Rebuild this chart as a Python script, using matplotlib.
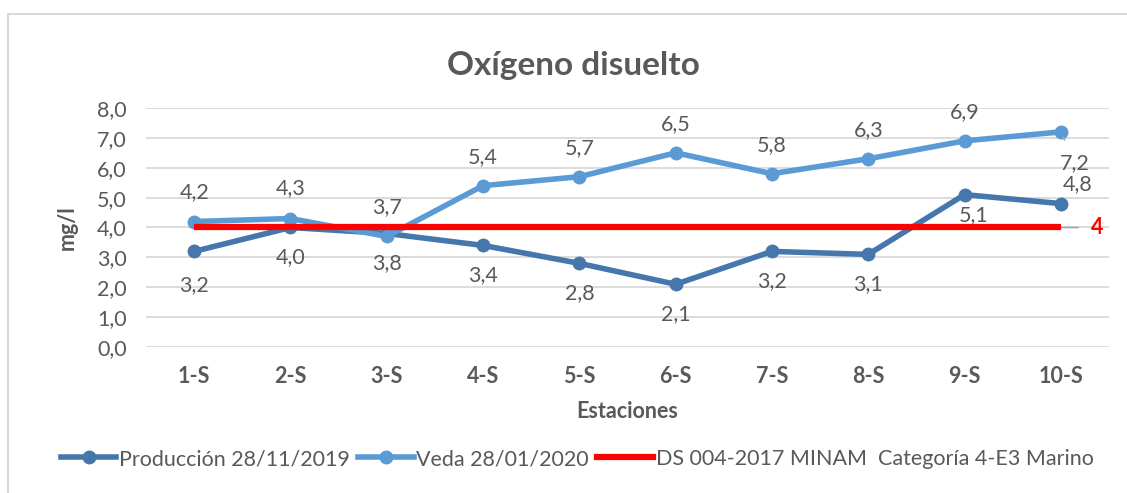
import numpy as np
import matplotlib
matplotlib.use("Agg")
from matplotlib import pyplot as plt
from matplotlib.lines import Line2D

plt.rcParams['font.family'] = ['Lato', 'DejaVu Sans']

# Data
estaciones = ['1-S', '2-S', '3-S', '4-S', '5-S', '6-S', '7-S', '8-S', '9-S', '10-S']
produccion = [3.2, 4.0, 3.8, 3.4, 2.8, 2.1, 3.2, 3.1, 5.1, 4.8]
veda = [4.2, 4.3, 3.7, 5.4, 5.7, 6.5, 5.8, 6.3, 6.9, 7.2]
limite = [4, 4, 4, 4, 4, 4, 4, 4, 4, 4]

c_prod = '#4677AC'
c_veda = '#5B9BD5'
c_lim = '#FF0000'
c_text = '#595959'
fs = 15.5

fig = plt.figure(figsize=(11.27, 4.93), dpi=100)
ax = fig.add_axes([146/1127, 1-347/493, (1109-146)/1127, (347-108)/493])

x = np.arange(len(estaciones))
ax.plot(x, produccion, color=c_prod, lw=4, marker='o', ms=9, zorder=3)
ax.plot(x, veda, color=c_veda, lw=4, marker='o', ms=9, zorder=3)
ax.plot(x, limite, color=c_lim, lw=4.5, solid_capstyle='butt', zorder=4)

ax.set_xlim(-0.5, len(estaciones) - 0.5)
ax.set_ylim(0, 8)
ax.set_yticks(np.arange(0, 9, 1))
ax.yaxis.set_major_formatter(plt.FuncFormatter(lambda v, p: ('%.1f' % v).replace('.', ',')))
ax.set_xticks(x)
ax.set_xticklabels(estaciones, fontweight='bold')
ax.grid(axis='y', color='#D9D9D9', lw=1.3)
ax.set_axisbelow(True)
for s in ax.spines.values():
    s.set_visible(False)
ax.tick_params(length=0, labelcolor=c_text, labelsize=fs)
ax.tick_params(axis='x', pad=14)
ax.tick_params(axis='y', pad=14)

def fmt(v):
    return ('%.1f' % v).replace('.', ',')

def px(v):
    return v * 0.72

# data labels (offsets in pixels)
prod_off = [(0, -34), (0, -30), (0, -30), (0, -30), (0, -30),
            (0, -30), (0, -30), (0, -30), (9, -20), (17, 20)]
veda_off = [(0, 29), (0, 30), (0, 29), (0, 29), (0, 29),
            (0, 29), (0, 29), (0, 29), (0, 29), (14, -31)]
for i, v in enumerate(produccion):
    ax.annotate(fmt(v), (i, v), xytext=(px(prod_off[i][0]), px(prod_off[i][1])),
                textcoords='offset points', ha='center', va='center',
                color=c_text, fontsize=fs)
for i, v in enumerate(veda):
    kw = {}
    if i == 9:
        kw['arrowprops'] = dict(arrowstyle='-', color='#A6A6A6', lw=1.2,
                                shrinkA=8, shrinkB=4)
    ax.annotate(fmt(v), (i, v), xytext=(px(veda_off[i][0]), px(veda_off[i][1])),
                textcoords='offset points', ha='center', va='center',
                color=c_text, fontsize=fs, **kw)
ax.annotate('4', (9, limite[9]), xytext=(px(36), 0), textcoords='offset points',
            ha='center', va='center', color=c_lim, fontsize=fs, fontweight='bold',
            arrowprops=dict(arrowstyle='-', color='#A6A6A6', lw=1.2,
                            shrinkA=7, shrinkB=0))

ax.set_ylabel('mg/l', fontweight='bold', color=c_text, fontsize=fs, labelpad=14)
ax.set_xlabel('Estaciones', fontweight='bold', color=c_text, fontsize=fs, labelpad=10)
fig.text(573/1127, 1-66/493, 'Oxígeno disuelto', ha='center', va='center',
         fontsize=24, fontweight='bold', color=c_text)

handles = [
    Line2D([], [], color=c_prod, lw=4, marker='o', ms=9),
    Line2D([], [], color=c_veda, lw=4, marker='o', ms=9),
    Line2D([], [], color=c_lim, lw=4.5),
]
labels = ['Producción 28/11/2019', 'Veda 28/01/2020', 'DS 004-2017 MINAM  Categoría 4-E3 Marino']
fig.legend(handles, labels, loc='center', bbox_to_anchor=(577/1127, 1-459/493), ncol=3,
           frameon=False, fontsize=fs, labelcolor=c_text, handlelength=2.6,
           handletextpad=0.1, columnspacing=0.4)

# chart frame
fig.add_artist(Line2D([8/1127, 8/1127], [0, 1-14/493], color='#D9D9D9', lw=1.5))
fig.add_artist(Line2D([8/1127, 1], [1-14/493, 1-14/493], color='#D9D9D9', lw=1.5))

fig.savefig('out.png', dpi=100)
